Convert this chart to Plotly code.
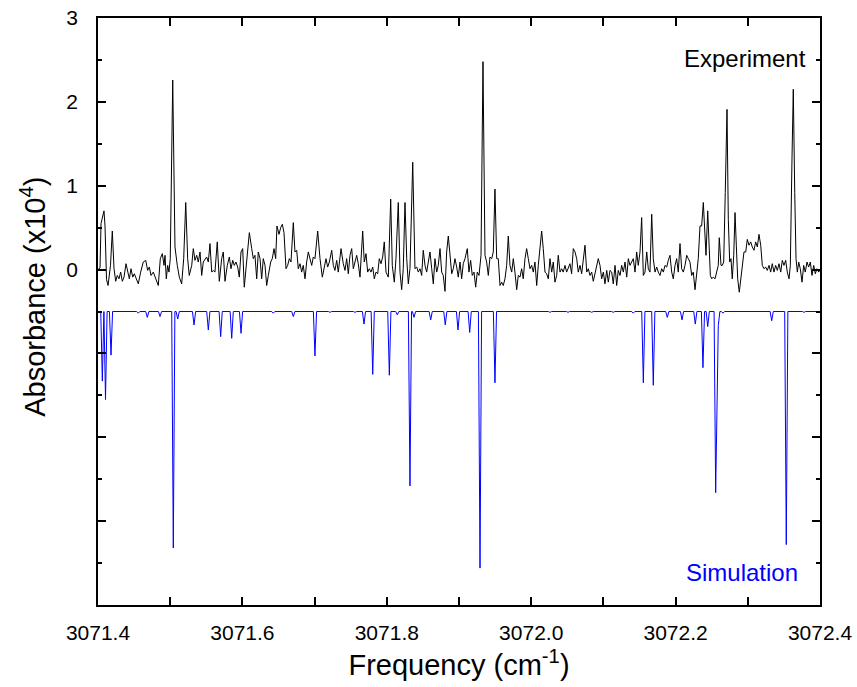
import plotly.graph_objects as go

# ---------------- data ----------------
exp_freq = [
3071.4000,3071.4028,3071.4042,3071.4062,3071.4083,3071.4097,3071.4118,3071.4139,3071.4173,3071.4198,
3071.4222,3071.4245,3071.4267,3071.4291,3071.4314,3071.4337,3071.4360,3071.4388,3071.4411,3071.4434,
3071.4457,3071.4481,3071.4503,3071.4526,3071.4558,3071.4591,3071.4627,3071.4661,3071.4688,3071.4711,
3071.4734,3071.4766,3071.4799,3071.4835,3071.4863,3071.4891,3071.4914,3071.4928,3071.4946,3071.4965,
3071.4983,3071.5001,3071.5035,3071.5066,3071.5098,3071.5126,3071.5159,3071.5187,3071.5215,3071.5242,
3071.5264,3071.5298,3071.5320,3071.5343,3071.5367,3071.5389,3071.5413,3071.5436,3071.5458,3071.5482,
3071.5505,3071.5528,3071.5551,3071.5575,3071.5597,3071.5620,3071.5652,3071.5680,
3071.5713,3071.5735,3071.5759,3071.5791,3071.5819,3071.5842,3071.5866,3071.5888,3071.5911,3071.5935,
3071.5957,3071.5981,3071.6004,3071.6026,3071.6059,3071.6096,3071.6129,3071.6151,3071.6174,3071.6198,
3071.6220,3071.6244,3071.6267,3071.6289,3071.6313,3071.6336,3071.6359,3071.6392,3071.6414,3071.6438,
3071.6461,3071.6479,3071.6507,3071.6530,3071.6553,3071.6576,3071.6604,3071.6627,3071.6650,3071.6673,
3071.6705,3071.6728,3071.6752,3071.6774,3071.6798,3071.6821,3071.6843,3071.6867,3071.6890,3071.6913,
3071.6936,3071.6960,3071.6982,3071.7005,3071.7043,3071.7075,3071.7107,3071.7134,3071.7158,3071.7181,
3071.7204,3071.7237,3071.7259,3071.7282,3071.7306,3071.7328,
3071.7366,3071.7397,3071.7421,3071.7444,3071.7467,3071.7490,3071.7514,3071.7536,3071.7559,3071.7583,
3071.7605,3071.7629,3071.7666,3071.7688,3071.7712,3071.7735,3071.7758,3071.7781,3071.7805,3071.7827,
3071.7850,3071.7874,3071.7896,3071.7920,3071.7943,3071.7965,3071.7989,3071.8021,3071.8054,3071.8076,
3071.8104,3071.8127,3071.8159,3071.8183,3071.8206,3071.8228,3071.8252,3071.8276,3071.8298,3071.8321,
3071.8359,3071.8390,3071.8414,3071.8436,3071.8460,3071.8483,3071.8505,3071.8529,3071.8552,3071.8575,
3071.8598,3071.8622,3071.8644,3071.8667,3071.8691,3071.8713,3071.8737,3071.8760,3071.8782,3071.8806,
3071.8829,3071.8852,3071.8875,3071.8899,3071.8921,3071.8944,
3071.8968,3071.8990,3071.9014,3071.9037,3071.9059,3071.9083,3071.9115,3071.9138,3071.9161,3071.9184,
3071.9208,3071.9231,3071.9253,3071.9277,3071.9305,3071.9332,3071.9360,3071.9383,3071.9406,3071.9429,
3071.9453,3071.9475,3071.9498,3071.9522,3071.9544,3071.9568,3071.9591,3071.9613,3071.9637,3071.9660,
3071.9683,3071.9706,3071.9730,3071.9752,3071.9775,3071.9799,3071.9821,3071.9845,3071.9868,3071.9890,
3071.9914,3071.9937,3071.9960,3071.9983,3072.0006,3072.0029,3072.0052,3072.0076,3072.0098,3072.0122,
3072.0145,3072.0167,3072.0191,3072.0214,3072.0237,3072.0260,3072.0284,3072.0306,3072.0329,3072.0353,
3072.0375,3072.0399,3072.0422,3072.0444,3072.0468,3072.0491,3072.0514,3072.0537,3072.0560,3072.0583,
3072.0607,
3072.0630,3072.0652,3072.0676,3072.0699,3072.0722,3072.0745,3072.0769,3072.0791,3072.0814,3072.0838,
3072.0860,3072.0884,3072.0907,3072.0929,3072.0953,3072.0976,3072.0999,3072.1022,3072.1046,3072.1068,
3072.1091,3072.1115,3072.1137,3072.1161,3072.1184,3072.1206,3072.1230,3072.1253,3072.1276,3072.1299,
3072.1323,3072.1345,3072.1368,3072.1392,3072.1414,3072.1438,3072.1461,3072.1483,3072.1507,3072.1530,
3072.1553,3072.1576,3072.1600,3072.1622,3072.1645,3072.1669,3072.1691,3072.1715,3072.1738,3072.1760,
3072.1784,3072.1807,3072.1830,3072.1853,3072.1877,3072.1899,3072.1922,3072.1946,3072.1968,3072.1992,
3072.2015,3072.2037,3072.2061,3072.2084,3072.2107,3072.2130,3072.2154,3072.2176,3072.2199,3072.2223,
3072.2245,3072.2269,
3072.2314,3072.2338,3072.2361,3072.2384,3072.2407,3072.2421,3072.2445,3072.2463,3072.2481,3072.2500,
3072.2522,3072.2546,3072.2569,3072.2591,3072.2605,3072.2629,3072.2647,3072.2666,3072.2688,3072.2712,
3072.2730,3072.2749,3072.2767,3072.2785,3072.2805,3072.2823,3072.2841,3072.2860,3072.2882,3072.2902,
3072.2924,3072.2947,3072.2971,3072.2993,3072.3017,3072.3040,3072.3062,3072.3086,3072.3109,3072.3132,
3072.3155,3072.3179,3072.3201,3072.3224,3072.3248,3072.3270,3072.3294,3072.3317,3072.3339,3072.3363,
3072.3386,3072.3409,3072.3432,3072.3456,3072.3478,3072.3501,3072.3525,3072.3547,3072.3571,3072.3589,
3072.3612,3072.3630,3072.3650,3072.3668,3072.3686,3072.3705,3072.3727,3072.3751,3072.3774,3072.3796,
3072.3820,3072.3843,3072.3866,3072.3889,3072.3913,3072.3935,3072.3958,3072.3982,3072.4000,
]
exp_abs = [
0.00,0.02,0.55,0.62,0.70,0.52,-0.12,-0.19,0.05,0.46,
0.01,-0.14,-0.07,-0.11,-0.03,-0.14,-0.09,0.07,-0.03,-0.11,
0.01,-0.09,-0.05,-0.11,-0.17,-0.03,0.09,0.11,-0.01,0.03,
-0.07,-0.03,-0.11,-0.19,0.13,0.19,0.05,0.17,-0.11,0.05,
-0.03,0.13,2.26,0.27,0.05,-0.09,-0.17,0.13,0.80,0.13,
-0.07,0.05,0.25,0.11,0.17,0.09,0.21,-0.07,0.09,0.13,
0.15,0.09,0.31,-0.03,-0.01,-0.03,0.33,-0.14,
0.13,0.21,-0.14,0.05,0.15,0.01,0.11,0.05,0.09,0.03,
-0.09,0.21,0.25,-0.21,0.09,0.44,0.25,0.13,0.17,-0.11,
0.21,0.13,-0.11,0.13,0.05,-0.19,-0.07,0.09,0.13,0.25,
0.13,0.52,0.42,0.50,0.54,0.44,0.01,0.05,0.13,0.09,
0.56,0.21,0.23,0.01,0.07,-0.03,0.05,-0.11,0.09,0.21,
0.13,0.05,0.15,0.13,0.46,0.13,-0.09,0.05,0.13,0.03,
0.09,0.23,0.05,-0.01,0.11,-0.03,
0.25,0.07,-0.01,0.13,-0.05,0.17,0.25,0.01,0.09,0.17,
0.07,-0.09,0.46,0.09,0.19,-0.03,0.01,-0.03,0.03,-0.11,
-0.03,-0.05,0.13,0.07,0.15,0.33,-0.03,-0.09,0.84,0.05,
-0.15,0.13,0.80,-0.03,-0.24,0.01,0.80,0.13,-0.17,0.01,
1.28,0.01,0.03,-0.03,0.01,-0.07,0.23,0.05,-0.03,0.09,
0.21,0.01,-0.17,0.13,-0.03,0.05,0.25,-0.03,-0.07,-0.26,
0.21,0.40,0.17,-0.05,0.01,0.13,
0.03,-0.09,0.09,-0.11,0.07,0.13,0.25,-0.03,0.11,-0.07,
-0.03,-0.21,-0.03,-0.07,0.17,2.48,0.17,0.09,-0.07,0.15,
0.13,0.21,0.96,0.13,0.13,-0.19,-0.15,-0.19,-0.11,0.05,
0.40,0.05,-0.03,0.13,-0.03,-0.24,-0.07,-0.09,0.01,-0.11,
0.13,0.25,0.13,0.01,0.05,-0.03,0.09,-0.19,0.05,0.29,
0.46,0.25,-0.03,-0.05,-0.11,0.13,-0.03,0.09,-0.15,-0.07,
0.17,-0.03,0.01,-0.03,0.05,-0.03,0.01,0.07,-0.05,0.25,
0.21,
0.13,-0.03,0.05,-0.05,0.09,0.29,-0.03,0.01,-0.07,-0.03,
-0.14,-0.03,0.05,0.13,0.05,-0.11,-0.03,-0.17,-0.01,-0.15,
-0.01,-0.03,-0.17,0.05,-0.19,-0.01,-0.07,0.05,-0.03,0.09,
-0.09,0.13,0.05,0.09,0.13,-0.03,0.21,0.05,0.21,0.62,
-0.07,-0.03,0.21,0.01,-0.03,0.66,0.13,-0.03,0.03,-0.03,
-0.07,0.01,-0.03,0.05,0.03,0.11,0.17,-0.03,-0.11,0.05,
0.13,-0.03,0.31,0.01,-0.03,0.05,0.17,0.13,0.09,-0.07,
-0.03,-0.24,
0.13,0.52,0.52,0.80,0.44,0.17,0.70,0.33,-0.07,-0.11,
-0.09,-0.11,-0.01,0.05,0.38,0.05,0.05,0.09,0.92,1.91,
0.60,0.09,0.13,-0.11,0.17,0.68,0.29,-0.11,-0.27,-0.11,
0.09,0.21,0.21,0.36,0.29,0.33,0.27,0.23,0.33,0.27,
0.42,0.29,0.05,0.01,0.03,-0.01,0.05,-0.03,0.07,-0.03,
0.05,-0.01,0.07,-0.03,0.11,0.05,0.11,-0.03,-0.11,0.05,
1.32,2.15,0.92,0.13,-0.03,0.09,0.01,-0.15,0.05,-0.03,
0.09,0.03,0.09,-0.07,0.05,-0.05,0.01,-0.03,0.00,
]

# simulated line list (offset baseline at -0.5)
sim_baseline = -0.5
sim_centers = [
3071.4060,3071.4104,3071.4180,3071.4558,3071.4683,3071.4859,3071.5043,3071.5104,3071.5330,3071.5528,
3071.5699,3071.5852,3071.5981,3071.6428,3071.6705,3071.7005,3071.7213,3071.7559,3071.7684,3071.7805,
3071.8035,3071.8145,3071.8321,3071.8377,3071.8608,3071.8810,3071.8986,3071.9148,3071.9291,3071.9498,
3072.0260,3072.0510,3072.0838,3072.1137,3072.1414,3072.1553,3072.1691,3072.1885,3072.2089,3072.2273,
3072.2379,3072.2445,3072.2555,3072.2591,3072.2656,3072.3331,3072.3533,3072.3778,
]
sim_minima = [
-1.33,-1.55,-1.02,-0.52,-0.57,-0.56,-3.32,-0.59,-0.66,-0.72,
-0.80,-0.82,-0.76,-0.52,-0.56,-1.03,-0.51,-0.51,-0.65,-1.25,
-1.26,-0.54,-2.58,-0.57,-0.60,-0.66,-0.72,-0.75,-3.56,-1.35,
-0.51,-0.51,-0.51,-0.51,-0.52,-1.35,-1.38,-0.57,-0.60,-0.65,
-1.17,-0.68,-2.66,-0.67,-0.52,-0.61,-3.28,-0.51,
]

x_range = [3071.4, 3072.4]
y_range = [-4, 3]
y_labeled = [0, 1, 2, 3]
y_unlabeled = [-4, -3, -2, -1]

# build the simulated trace from the line list
hw = 0.0022
sx, sy = [x_range[0]], [sim_baseline]
n = len(sim_centers)
for i, (c, d) in enumerate(zip(sim_centers, sim_minima)):
    if i == 0 or c - hw > sim_centers[i - 1] + hw:
        sx.append(c - hw); sy.append(sim_baseline)
    sx.append(c); sy.append(d)
    if i == n - 1 or sim_centers[i + 1] - hw > c + hw:
        sx.append(c + hw); sy.append(sim_baseline)
sx.append(x_range[1]); sy.append(sim_baseline)

FONT = "Liberation Sans, Arial, sans-serif"

fig = go.Figure()
fig.add_trace(go.Scatter(x=exp_freq, y=exp_abs, mode="lines",
                         line=dict(color="black", width=1), showlegend=False))
fig.add_trace(go.Scatter(x=sx, y=sy, mode="lines",
                         line=dict(color="#0000FF", width=1), showlegend=False))
# invisible helper on the overlay axis (carries the unlabeled major ticks)
fig.add_trace(go.Scatter(x=[x_range[0]], y=[y_range[0]], yaxis="y2", mode="markers",
                         marker=dict(opacity=0), hoverinfo="skip", showlegend=False))

fig.add_annotation(text="Experiment", x=0.984, y=0.931, xref="paper", yref="paper",
                   xanchor="right", yanchor="middle", showarrow=False,
                   font=dict(family=FONT, size=24, color="black"))
fig.add_annotation(text="Simulation", x=0.892, y=0.056, xref="paper", yref="paper",
                   xanchor="center", yanchor="middle", showarrow=False,
                   font=dict(family=FONT, size=24, color="#0000FF"))
# y-axis title, placed as in the reference (slightly above the axis centre)
fig.add_annotation(text="Absorbance (x10<sup>4</sup>)", textangle=-90,
                   x=-0.09, y=0.525, xref="paper", yref="paper",
                   xanchor="center", yanchor="middle", showarrow=False,
                   font=dict(family=FONT, size=29, color="black"))

fig.update_layout(
    width=857, height=687,
    margin=dict(l=98, r=37, t=18, b=82, autoexpand=False),
    paper_bgcolor="white", plot_bgcolor="white",
    font=dict(family=FONT, color="black"),
    yaxis2=dict(overlaying="y", side="left", range=y_range, showgrid=False, zeroline=False,
                showline=False, tickmode="array", tickvals=y_unlabeled, showticklabels=False,
                ticks="inside", ticklen=8, tickwidth=1.5, tickcolor="black", mirror="ticks",
                automargin=False),
)
fig.update_xaxes(
    range=x_range, showgrid=False, zeroline=False, automargin=False,
    showline=True, linecolor="black", linewidth=1.5, mirror="allticks",
    ticks="inside", ticklen=8, tickwidth=1.5, tickcolor="black",
    dtick=0.2, tick0=3071.4, tickformat=".1f",
    tickfont=dict(size=21, family=FONT),
    ticklabelstandoff=8,
    minor=dict(ticks="inside", dtick=0.1, tick0=3071.4, ticklen=4, tickwidth=1.5, tickcolor="black"),
    title=dict(text="Frequency (cm<sup>-1</sup>)", font=dict(size=29, family=FONT), standoff=12),
)
fig.update_layout(yaxis=dict(
    range=y_range, showgrid=False, zeroline=False, automargin=False,
    showline=True, linecolor="black", linewidth=1.5, mirror="allticks",
    ticks="inside", ticklen=8, tickwidth=1.5, tickcolor="black",
    tickmode="array", tickvals=y_labeled,
    tickfont=dict(size=21, family=FONT),
    ticklabelstandoff=14,
    minor=dict(ticks="inside", dtick=0.5, tick0=0, ticklen=4, tickwidth=1.5, tickcolor="black"),
))

fig.write_html("out.html")
